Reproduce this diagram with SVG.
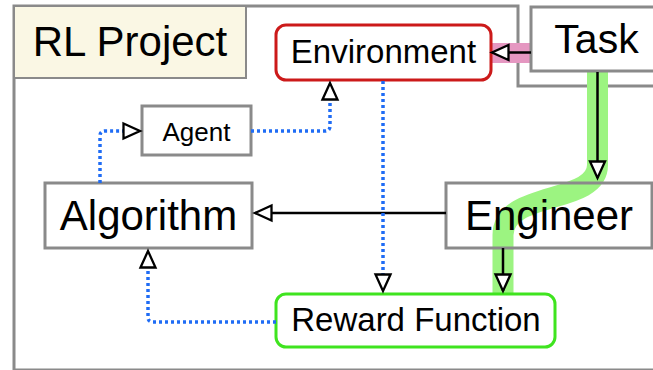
<svg xmlns="http://www.w3.org/2000/svg" width="653" height="370" viewBox="0 0 653 370">
<style>
.box{fill:none;stroke:#8a8a8a;stroke-width:3}
.lbl{font-family:"Liberation Sans",Arial,sans-serif;fill:#000;text-anchor:middle}
.solid{fill:none;stroke:#000;stroke-width:2.5;marker-end:url(#tri)}
.dot{fill:none;stroke:#1f6cf5;stroke-width:3.5;stroke-dasharray:3 3;marker-end:url(#tri)}
</style>
<defs>
<marker id="tri" markerUnits="userSpaceOnUse" markerWidth="21" markerHeight="20" viewBox="0 0 21 20" refX="18" refY="10" orient="auto">
<path d="M1.5,2.5 L18,10 L1.5,17.5 Z" fill="#fff" stroke="#000" stroke-width="2.3" stroke-dasharray="none" stroke-linejoin="miter"/>
</marker>
</defs>
<rect width="653" height="370" fill="#fff"/>
<g id="container">
<path d="M14,6 H518 V86 H660 V370 H14 Z" fill="none" stroke="#8a8a8a" stroke-width="3"/>
<rect x="14" y="6" width="232" height="72" fill="#faf7e4" stroke="#8a8a8a" stroke-width="2"/>
<text class="lbl" x="130" y="56" font-size="42">RL Project</text>
</g>
<g id="highlights">
<path d="M492,53 H532" fill="none" stroke="#e597c1" stroke-width="20"/>
<path d="M597.5,72 V165 C597.5,205 503,190 503,235 V294" fill="none" stroke="#9cf481" stroke-width="21"/>
</g>
<g id="environment">
<rect x="276" y="25" width="215" height="55" rx="10" fill="none" stroke="#cc1a1a" stroke-width="3"/>
<text class="lbl" x="383.5" y="63" font-size="33">Environment</text>
</g>
<g id="task">
<rect class="box" x="531" y="7" width="130" height="64"/>
<text class="lbl" x="596.5" y="53" font-size="41">Task</text>
</g>
<g id="agent">
<rect class="box" x="142" y="106" width="109" height="49"/>
<text class="lbl" x="196.5" y="141" font-size="26">Agent</text>
</g>
<g id="algorithm">
<rect class="box" x="45" y="183" width="207" height="65"/>
<text class="lbl" x="148.5" y="230" font-size="42">Algorithm</text>
</g>
<g id="engineer">
<rect class="box" x="446" y="183" width="206" height="65"/>
<text class="lbl" x="549" y="229.5" font-size="42">Engineer</text>
</g>
<g id="reward">
<rect x="276" y="294" width="279" height="53" rx="10" fill="none" stroke="#3fe41f" stroke-width="3"/>
<text class="lbl" x="416" y="331" font-size="33">Reward Function</text>
</g>
<g id="connectors">
<path class="solid" d="M531,52.5 H492"/>
<path class="solid" d="M597.5,72 V178"/>
<path class="solid" d="M446,213 H255"/>
<path class="solid" d="M503,248 V291"/>
<path class="dot" d="M383,81 V291"/>
<path class="dot" d="M251,131 H325 Q330,131 330,126 V83"/>
<path class="dot" d="M100,183 V136 Q100,131 105,131 H140"/>
<path class="dot" d="M276,322 H153 Q148,322 148,317 V251"/>
</g>
</svg>
